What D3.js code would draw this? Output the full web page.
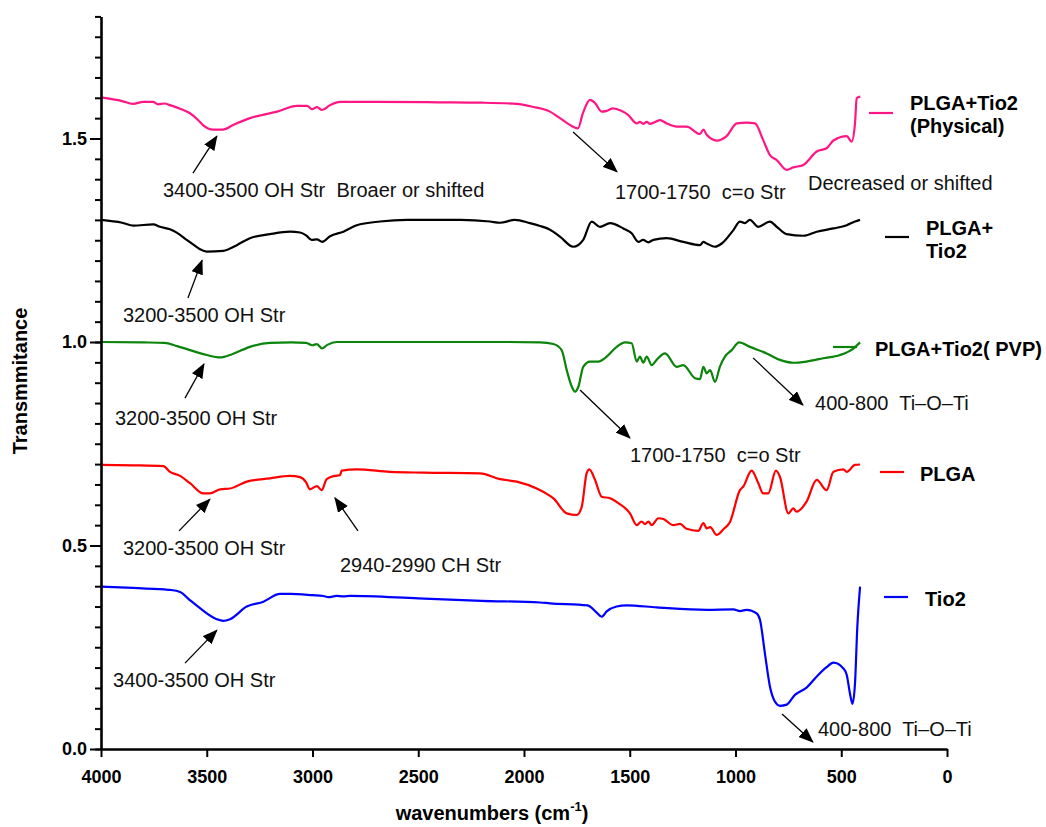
<!DOCTYPE html>
<html>
<head>
<meta charset="utf-8">
<script src="https://cdn.jsdelivr.net/npm/d3@7"></script>
<style>
  html, body { margin: 0; padding: 0; background: #fff; }
  svg { display: block; }
  text { font-family: "Liberation Sans", Arial, sans-serif; }
</style>
</head>
<body>
<svg id="chart" width="1046" height="827"></svg>
<script>
// ---------------- DATA ----------------
const seriesNames = ["PLGA+Tio2 (Physical)", "PLGA+ Tio2", "PLGA+Tio2( PVP)", "PLGA", "Tio2"];
const seriesColors = ["#ff1684", "#000000", "#0a840a", "#ff0000", "#0000ff"];

// [wavenumber cm-1, transmittance]
const physical = [[4000,1.601],[3900,1.592],[3849,1.585],[3800,1.590],[3754,1.590],[3730,1.584],[3700,1.586],[3674,1.582],[3620,1.572],[3579,1.562],[3540,1.545],[3518,1.533],[3470,1.522],[3423,1.522],[3376,1.533],[3296,1.550],[3168,1.566],[3073,1.580],[3026,1.580],[3002,1.572],[2979,1.577],[2955,1.570],[2917,1.582],[2870,1.590],[2700,1.590],[2400,1.589],[2200,1.588],[2033,1.585],[1960,1.578],[1877,1.566],[1830,1.550],[1768,1.529],[1745,1.525],[1721,1.563],[1688,1.595],[1664,1.587],[1633,1.566],[1609,1.568],[1579,1.574],[1540,1.568],[1508,1.558],[1467,1.537],[1452,1.541],[1437,1.536],[1420,1.541],[1404,1.536],[1357,1.545],[1325,1.537],[1278,1.529],[1231,1.529],[1168,1.511],[1152,1.522],[1136,1.509],[1089,1.495],[1042,1.506],[994,1.537],[947,1.539],[908,1.537],[869,1.496],[837,1.459],[805,1.447],[758,1.423],[727,1.429],[679,1.435],[616,1.468],[569,1.476],[537,1.495],[474,1.506],[451,1.492],[435,1.537],[427,1.599],[410,1.603]];

const plgaTio2 = [[4000,1.300],[3900,1.293],[3847,1.286],[3753,1.289],[3721,1.283],[3674,1.277],[3640,1.268],[3595,1.251],[3560,1.238],[3532,1.228],[3500,1.222],[3422,1.224],[3358,1.238],[3296,1.255],[3201,1.265],[3106,1.271],[3059,1.269],[3030,1.262],[3004,1.251],[2979,1.252],[2954,1.246],[2917,1.260],[2854,1.271],[2791,1.287],[2681,1.296],[2555,1.300],[2300,1.300],[2161,1.296],[2113,1.293],[2043,1.300],[1972,1.292],[1924,1.285],[1877,1.276],[1830,1.259],[1767,1.234],[1720,1.251],[1680,1.296],[1641,1.283],[1593,1.292],[1530,1.279],[1491,1.267],[1459,1.246],[1437,1.251],[1412,1.245],[1388,1.251],[1325,1.255],[1247,1.246],[1168,1.238],[1152,1.246],[1136,1.242],[1097,1.234],[1065,1.242],[1010,1.275],[979,1.296],[956,1.292],[932,1.300],[892,1.283],[837,1.296],[805,1.283],[758,1.265],[679,1.261],[616,1.271],[537,1.279],[474,1.287],[435,1.296],[411,1.300]];

const plgaTio2Pvp = [[4000,1.000],[3800,0.999],[3700,0.998],[3640,0.990],[3579,0.980],[3500,0.968],[3437,0.962],[3380,0.970],[3296,0.988],[3200,0.998],[3100,0.999],[3030,0.998],[3002,0.992],[2979,0.995],[2955,0.984],[2930,0.993],[2886,1.000],[2500,1.000],[2100,1.000],[1924,0.999],[1861,0.995],[1822,0.980],[1798,0.931],[1774,0.890],[1759,0.878],[1743,0.890],[1720,0.939],[1688,0.952],[1649,0.952],[1609,0.964],[1562,0.988],[1522,0.999],[1491,0.997],[1467,0.952],[1452,0.964],[1436,0.949],[1420,0.964],[1396,0.943],[1373,0.956],[1333,0.972],[1278,0.939],[1247,0.943],[1191,0.911],[1168,0.909],[1152,0.939],[1136,0.923],[1120,0.931],[1097,0.902],[1074,0.939],[1050,0.964],[1018,0.980],[983,0.999],[932,0.988],[853,0.972],[790,0.956],[727,0.949],[664,0.952],[585,0.960],[506,0.968],[443,0.984],[411,0.999]];

const plga = [[4000,0.698],[3850,0.697],[3705,0.695],[3674,0.681],[3626,0.671],[3579,0.653],[3516,0.628],[3485,0.628],[3437,0.638],[3390,0.640],[3311,0.657],[3201,0.665],[3106,0.671],[3059,0.668],[3030,0.655],[3012,0.638],[2979,0.646],[2957,0.636],[2933,0.663],[2896,0.671],[2870,0.673],[2862,0.684],[2791,0.687],[2634,0.681],[2476,0.679],[2208,0.677],[2113,0.663],[2034,0.657],[1940,0.640],[1877,0.622],[1861,0.616],[1798,0.579],[1751,0.575],[1727,0.595],[1704,0.677],[1691,0.687],[1664,0.661],[1633,0.620],[1593,0.616],[1554,0.604],[1499,0.579],[1467,0.550],[1444,0.559],[1428,0.553],[1412,0.559],[1396,0.550],[1365,0.567],[1341,0.565],[1294,0.550],[1262,0.553],[1231,0.541],[1176,0.536],[1152,0.555],[1136,0.542],[1120,0.545],[1089,0.526],[1057,0.540],[1026,0.558],[979,0.636],[963,0.645],[924,0.684],[892,0.653],[869,0.628],[845,0.628],[809,0.684],[790,0.669],[750,0.579],[727,0.591],[711,0.583],[664,0.608],[616,0.661],[569,0.636],[537,0.681],[490,0.687],[474,0.681],[435,0.698],[411,0.699]];

const tio2 = [[4000,0.399],[3850,0.396],[3700,0.392],[3674,0.391],[3626,0.386],[3580,0.366],[3532,0.346],[3453,0.319],[3422,0.315],[3390,0.319],[3311,0.350],[3232,0.362],[3154,0.381],[3106,0.381],[3000,0.378],[2949,0.376],[2925,0.373],[2886,0.376],[2854,0.375],[2822,0.376],[2500,0.370],[2200,0.364],[1924,0.360],[1877,0.358],[1700,0.353],[1688,0.350],[1656,0.335],[1633,0.325],[1609,0.338],[1562,0.350],[1515,0.353],[1373,0.348],[1136,0.342],[1010,0.343],[978,0.339],[947,0.342],[900,0.333],[884,0.317],[861,0.235],[837,0.153],[813,0.116],[790,0.106],[758,0.109],[719,0.133],[664,0.151],[609,0.182],[569,0.201],[537,0.212],[490,0.198],[474,0.182],[459,0.137],[447,0.111],[435,0.161],[424,0.300],[411,0.399]];

const seriesData = [physical, plgaTio2, plgaTio2Pvp, plga, tio2];

const xTickValues = [4000, 3500, 3000, 2500, 2000, 1500, 1000, 500, 0];
const yMajorTicks = [0, 0.5, 1.0, 1.5];

// annotations: text and arrow (tail -> head) in data units
const annoTexts = [
  "3400-3500 OH Str  Broaer or shifted",
  "1700-1750  c=o Str",
  "Decreased or shifted",
  "3200-3500 OH Str",
  "3200-3500 OH Str",
  "1700-1750  c=o Str",
  "400-800  Ti\u2013O\u2013Ti",
  "3200-3500 OH Str",
  "2940-2990 CH Str",
  "3400-3500 OH Str",
  "400-800  Ti\u2013O\u2013Ti"
];
const annoTextPos = [[3707,1.356],[1570,1.351],[657,1.373],[3896,1.049],[3934,0.796],[1499,0.705],[624,0.833],[3896,0.477],[2870,0.435],[3943,0.152],[610,0.032]];
const arrows = [
  [[3565,1.415],[3452,1.506]],
  [[1768,1.516],[1560,1.418]],
  [[3589,1.108],[3522,1.201]],
  [[3603,0.862],[3513,0.946]],
  [[1735,0.882],[1499,0.764]],
  [[917,0.961],[681,0.845]],
  [[3631,0.536],[3485,0.614]],
  [[2785,0.536],[2894,0.617]],
  [[3603,0.211],[3452,0.292]],
  [[780,0.086],[634,0.017]]
];

// ---------------- LAYOUT ----------------
const svg = d3.select("#chart");
svg.append("rect").attr("width", 1046).attr("height", 827).attr("fill", "#fff");

const x = d3.scaleLinear().domain([4000, 0]).range([101, 947]);
const y = d3.scaleLinear().domain([0, 1.8]).range([749, 749 - 1.8 * 407]);

// markers
svg.append("defs").append("marker")
  .attr("id", "arrowhead")
  .attr("markerUnits", "userSpaceOnUse")
  .attr("markerWidth", 16).attr("markerHeight", 12)
  .attr("refX", 14).attr("refY", 6)
  .attr("orient", "auto")
  .append("path").attr("d", "M0,0 L15,6 L0,12 Z").attr("fill", "#000");

// spectra
const line = d3.line().x(d => x(d[0])).y(d => y(d[1])).curve(d3.curveMonotoneX);
svg.append("g").selectAll("path").data(seriesData).join("path")
  .attr("d", d => line(d))
  .attr("fill", "none")
  .attr("stroke", (d, i) => seriesColors[i])
  .attr("stroke-width", 2.2)
  .attr("stroke-linejoin", "round");

// Y axis: minor ticks
const yMinor = d3.range(0, 36 + 1).map(i => +(i * 0.05).toFixed(2));
svg.append("g").attr("transform", "translate(101,0)")
  .call(d3.axisLeft(y).tickValues(yMinor).tickSize(6).tickSizeOuter(0).tickFormat(""))
  .call(g => g.selectAll("line").attr("stroke-width", 2))
  .call(g => g.select(".domain").attr("stroke-width", 2.6));
svg.append("g").attr("transform", "translate(101,0)")
  .call(d3.axisLeft(y).tickValues(yMajorTicks).tickSize(11).tickPadding(3).tickSizeOuter(0).tickFormat(d3.format(".1f")))
  .call(g => g.select(".domain").remove())
  .call(g => g.selectAll("line").attr("stroke-width", 2))
  .call(g => g.selectAll("text").attr("font-size", 18).attr("font-weight", "bold")
    .attr("font-family", "'Liberation Sans', Arial, sans-serif").attr("fill", "#000"));

// X axis
svg.append("g").attr("transform", "translate(0,749)")
  .call(d3.axisBottom(x).tickValues(xTickValues).tickSize(8).tickPadding(13).tickSizeOuter(0).tickFormat(d3.format("d")))
  .call(g => g.select(".domain").attr("stroke-width", 2.6))
  .call(g => g.selectAll("line").attr("stroke-width", 2))
  .call(g => g.selectAll("text").attr("font-size", 18).attr("font-weight", "bold")
    .attr("font-family", "'Liberation Sans', Arial, sans-serif").attr("fill", "#000"));

// axis titles
svg.append("text")
  .attr("transform", "translate(27,381) rotate(-90)")
  .attr("text-anchor", "middle")
  .attr("font-size", 20).attr("font-weight", "bold")
  .text("Transmmitance");

const xt = svg.append("text")
  .attr("x", 492).attr("y", 820)
  .attr("text-anchor", "middle")
  .attr("font-size", 20).attr("font-weight", "bold");
xt.append("tspan").text("wavenumbers (cm");
xt.append("tspan").attr("font-size", 13).attr("dy", -9).text("-1");
xt.append("tspan").attr("dy", 9).text(")");

// annotations
svg.append("g").selectAll("line").data(arrows).join("line")
  .attr("x1", d => x(d[0][0])).attr("y1", d => y(d[0][1]))
  .attr("x2", d => x(d[1][0])).attr("y2", d => y(d[1][1]))
  .attr("stroke", "#000").attr("stroke-width", 1.3)
  .attr("marker-end", "url(#arrowhead)");

svg.append("g").selectAll("text").data(annoTexts).join("text")
  .attr("x", (d, i) => x(annoTextPos[i][0]))
  .attr("y", (d, i) => y(annoTextPos[i][1]))
  .attr("font-size", 20)
  .attr("fill", "#111")
  .style("white-space", "pre")
  .attr("xml:space", "preserve")
  .text(d => d);

// legend (each entry next to its curve end)
const legendLayout = [
  {lx: 869, ly: 113, tx: 910, lines: ["PLGA+Tio2", "(Physical)"], ty: 110},
  {lx: 885, ly: 237, tx: 926, lines: ["PLGA+", "Tio2"], ty: 235},
  {lx: 833, ly: 347, tx: 875, lines: ["PLGA+Tio2( PVP)"], ty: 356},
  {lx: 880, ly: 472, tx: 920, lines: ["PLGA"], ty: 481},
  {lx: 884, ly: 597, tx: 925, lines: ["Tio2"], ty: 606}
];
const lg = svg.append("g").selectAll("g").data(seriesNames).join("g");
lg.append("line")
  .attr("x1", (d, i) => legendLayout[i].lx).attr("x2", (d, i) => legendLayout[i].lx + 24)
  .attr("y1", (d, i) => legendLayout[i].ly).attr("y2", (d, i) => legendLayout[i].ly)
  .attr("stroke", (d, i) => seriesColors[i]).attr("stroke-width", 2.2);
lg.each(function(d, i) {
  const L = legendLayout[i];
  const t = d3.select(this).append("text")
    .attr("font-size", 20).attr("font-weight", "bold").attr("fill", "#000");
  L.lines.forEach((s, k) => {
    t.append("tspan").attr("x", L.tx).attr("y", L.ty + k * 23).text(s);
  });
});
</script>
</body>
</html>
